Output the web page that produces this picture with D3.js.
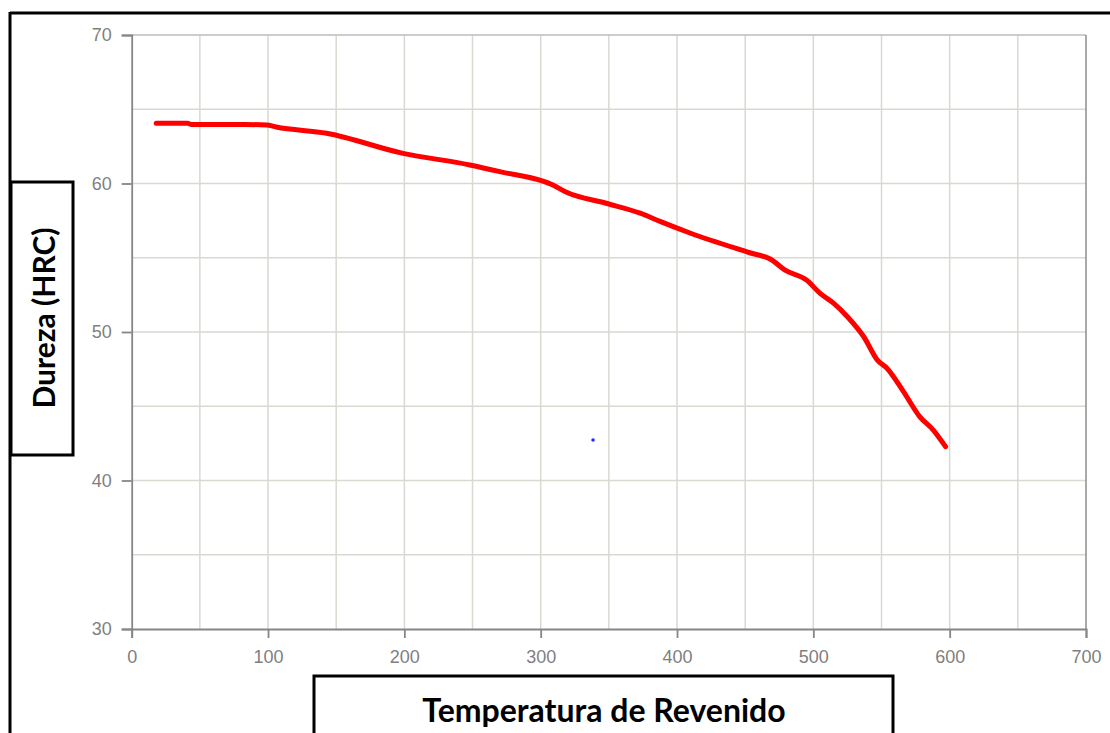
<!DOCTYPE html>
<html>
<head>
<meta charset="utf-8">
<script src="https://cdn.jsdelivr.net/npm/d3@7"></script>
<style>
  html, body { margin: 0; padding: 0; background: #fff; }
  svg { display: block; }
</style>
</head>
<body>
<svg id="chart" width="1110" height="733"></svg>
<script>
// Tempering curve: hardness vs tempering temperature
const temperatura = [18, 41, 44, 83, 99, 106, 143, 199, 248, 270, 309, 319, 348, 373, 388, 410, 454, 469, 479, 495, 505, 515, 525, 537, 547, 554, 566, 578, 588, 597];
const dureza =      [64.05, 64.05, 63.97, 63.97, 63.94, 63.8, 63.38, 62.03, 61.25, 60.8, 59.9, 59.41, 58.67, 58.0, 57.43, 56.65, 55.32, 54.88, 54.18, 53.5, 52.6, 51.93, 51.03, 49.68, 48.11, 47.56, 46.0, 44.3, 43.4, 42.28];

// stray point
const puntoX = [338.4];
const puntoY = [42.73];

const xTicks = [0, 100, 200, 300, 400, 500, 600, 700];
const yTicks = [30, 40, 50, 60, 70];
const xGrid = [50, 100, 150, 200, 250, 300, 350, 400, 450, 500, 550, 600, 650];
const yGrid = [35, 40, 45, 50, 55, 60, 65];

const svg = d3.select("#chart");
const x = d3.scaleLinear().domain([0, 700]).range([131.7, 1086]);
const y = d3.scaleLinear().domain([30, 70]).range([629, 35]);

// outer frame
svg.append("line").attr("x1", 10).attr("x2", 1110).attr("y1", 13).attr("y2", 13)
  .attr("stroke", "#000").attr("stroke-width", 3);
svg.append("line").attr("x1", 10).attr("x2", 10).attr("y1", 12).attr("y2", 733)
  .attr("stroke", "#000").attr("stroke-width", 3);

// grid
const grid = svg.append("g");
grid.selectAll("line.gx").data(xGrid).join("line")
  .attr("x1", d => x(d)).attr("x2", d => x(d))
  .attr("y1", y(70)).attr("y2", y(30))
  .attr("stroke", "#d9d9d2").attr("stroke-width", 1.5);
grid.selectAll("line.gy").data(yGrid).join("line")
  .attr("x1", x(0)).attr("x2", x(700))
  .attr("y1", d => y(d)).attr("y2", d => y(d))
  .attr("stroke", "#d9d9d2").attr("stroke-width", 1.5);

// plot border (top, right)
svg.append("line").attr("x1", x(0)).attr("x2", x(700)).attr("y1", y(70)).attr("y2", y(70))
  .attr("stroke", "#bdbdbd").attr("stroke-width", 1.5);
svg.append("line").attr("x1", x(700)).attr("x2", x(700)).attr("y1", y(70)).attr("y2", y(30))
  .attr("stroke", "#8c8c8c").attr("stroke-width", 1.5);

// axes
const axisColor = "#868686";
const xAxis = svg.append("g").attr("transform", `translate(0,${y(30)})`)
  .call(d3.axisBottom(x).tickValues(xTicks).tickSize(9).tickPadding(12).tickFormat(d3.format("d")));
const yAxis = svg.append("g").attr("transform", `translate(${x(0)},0)`)
  .call(d3.axisLeft(y).tickValues(yTicks).tickSize(10).tickPadding(10).tickFormat(d3.format("d")));
[xAxis, yAxis].forEach(a => {
  a.select(".domain").attr("stroke", axisColor).attr("stroke-width", 1.8);
  a.selectAll(".tick line").attr("stroke", axisColor).attr("stroke-width", 1.8);
  a.selectAll(".tick text").attr("fill", "#7f7f7f")
    .attr("font-family", "Liberation Sans, Arial, sans-serif").attr("font-size", 18);
});

// curve
const line = d3.line().x((d, i) => x(temperatura[i])).y(d => y(d)).curve(d3.curveMonotoneX);
svg.append("path").datum(dureza).attr("d", line)
  .attr("fill", "none").attr("stroke", "#ff0000").attr("stroke-width", 5)
  .attr("stroke-linejoin", "round").attr("stroke-linecap", "round");

// stray point
svg.selectAll("circle.p").data(puntoX).join("circle")
  .attr("cx", d => x(d)).attr("cy", (d, i) => y(puntoY[i])).attr("r", 1.8)
  .attr("fill", "#2a2aff");

// axis title boxes
svg.append("rect").attr("x", 11).attr("y", 182).attr("width", 62).attr("height", 273)
  .attr("fill", "#fff").attr("stroke", "#000").attr("stroke-width", 3);
svg.append("text")
  .attr("transform", "translate(55,318) rotate(-90)")
  .attr("text-anchor", "middle")
  .attr("font-family", "Lato, 'Open Sans', sans-serif").attr("font-weight", "bold")
  .attr("font-size", 30).attr("fill", "#000")
  .text("Dureza (HRC)");

svg.append("rect").attr("x", 314).attr("y", 676).attr("width", 579).attr("height", 80)
  .attr("fill", "#fff").attr("stroke", "#000").attr("stroke-width", 3);
svg.append("text")
  .attr("x", 604).attr("y", 722)
  .attr("text-anchor", "middle")
  .attr("font-family", "Lato, 'Open Sans', sans-serif").attr("font-weight", "bold")
  .attr("font-size", 32).attr("fill", "#000")
  .text("Temperatura de Revenido");
</script>
</body>
</html>
